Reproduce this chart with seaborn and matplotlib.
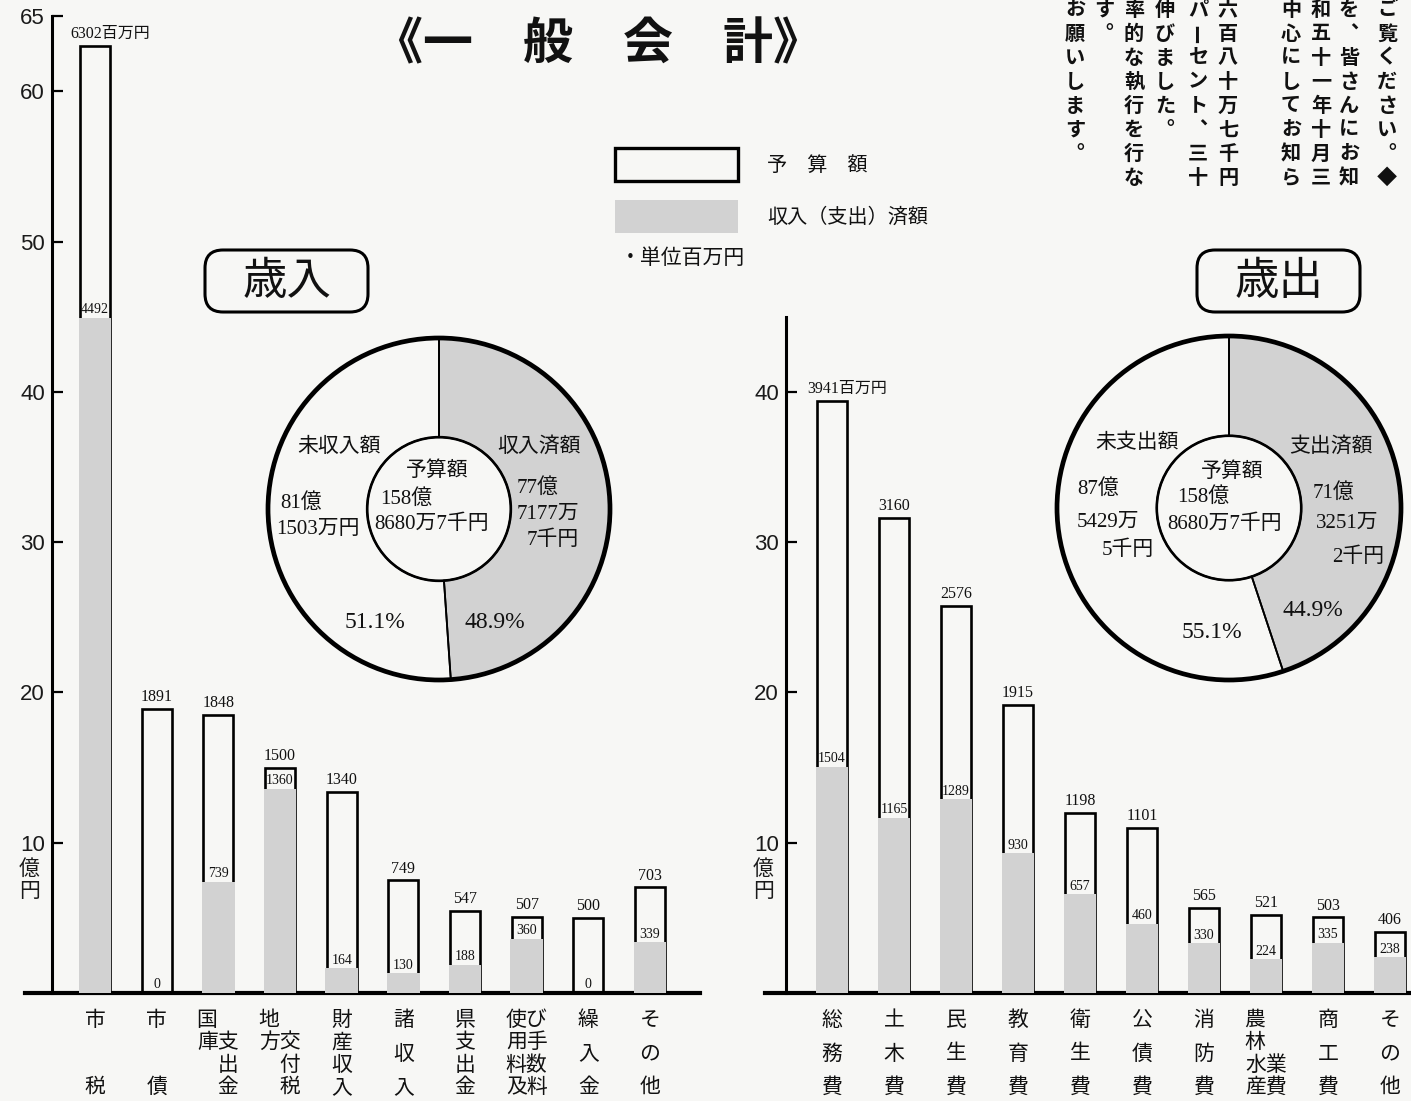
import numpy as np
import matplotlib
matplotlib.use("Agg")
import matplotlib.pyplot as plt
from matplotlib.patches import Rectangle, FancyBboxPatch, Circle
import seaborn as sns

sns.set_theme(style="white")
plt.rcParams['font.family'] = ['Noto Sans CJK JP', 'DejaVu Sans']
SERIF = ['Liberation Serif', 'Noto Sans CJK JP']
SANS = ['Liberation Sans', 'Noto Sans CJK JP']

# --- データ (百万円) ---
rev_cats = ['市税', '市債', '国庫支出金', '地方交付税', '財産収入', '諸収入',
            '県支出金', '使用料及び手数料', '繰入金', 'その他']
rev_budget = [6302, 1891, 1848, 1500, 1340, 749, 547, 507, 500, 703]
rev_actual = [4492, 0, 739, 1360, 164, 130, 188, 360, 0, 339]
rev_lines = [['市', '税'], ['市', '債'], ['国　', '庫支', '　出', '　金'],
             ['地　', '方交', '　付', '　税'], ['財', '産', '収', '入'],
             ['諸', '収', '入'], ['県', '支', '出', '金'],
             ['使び', '用手', '料数', '及料'], ['繰', '入', '金'], ['そ', 'の', '他']]

exp_cats = ['総務費', '土木費', '民生費', '教育費', '衛生費', '公債費',
            '消防費', '農林水産業費', '商工費', 'その他']
exp_budget = [3941, 3160, 2576, 1915, 1198, 1101, 565, 521, 503, 406]
exp_actual = [1504, 1165, 1289, 930, 657, 460, 330, 224, 335, 238]
exp_lines = [['総', '務', '費'], ['土', '木', '費'], ['民', '生', '費'],
             ['教', '育', '費'], ['衛', '生', '費'], ['公', '債', '費'],
             ['消', '防', '費'], ['農　', '林　', '水業', '産費'],
             ['商', '工', '費'], ['そ', 'の', '他']]

rev_pct = [48.9, 51.1]   # 収入済額, 未収入額
exp_pct = [44.9, 55.1]   # 支出済額, 未支出額

notice_cols = ['ご覧ください。◆', 'を、皆さんにお知', '和五十一年十月三', '中心にしてお知ら',
               '六百八十万七千円', 'パーセント、三十', '伸びました。', '率的な執行を行な',
               'す。', 'お願いします。']
notice_x = [1387, 1349, 1321, 1291, 1228, 1198, 1165, 1134, 1104, 1075]

W, H = 1411, 1101
BG = '#f7f7f5'
GRAY = '#d2d2d2'
Y0 = 993      # baseline (px)
PX = 15.03    # px per 億円

fig = plt.figure(figsize=(W / 100, H / 100), dpi=100, facecolor=BG)


def px2y(p):
    return (Y0 - p) / PX


def fig_rect(x0, y0, x1, y1):
    return [x0 / W, (H - y1) / H, (x1 - x0) / W, (y1 - y0) / H]


YTOP = Y0 - 65 * PX


def bar_panel(x0, x1, first, step, spine, cats, budget, actual, lines, top, ticks):
    ax = fig.add_axes(fig_rect(x0, YTOP, x1, Y0))
    ax.set_facecolor('none')
    b = np.array(budget) / 100
    a = np.array(actual) / 100
    pos = np.arange(len(cats))
    bw = 30 / step
    lw_u = 2.6 / step
    ax.bar(pos, b, width=bw, facecolor='none', edgecolor='black', linewidth=1.9, zorder=2)
    sns.barplot(x=cats, y=a, color=GRAY, width=bw + lw_u, saturation=1,
                linewidth=0, ax=ax, zorder=3)
    ax.set_xlim((x0 - first) / step, (x1 - first) / step)
    ax.set_ylim(0, 65)
    ax.set_xticks([])
    ax.set_xlabel('')
    ax.set_ylabel('')

    for i in pos:
        if i == 0:
            ax.text(i - bw / 2 - 0.15, b[i] + 0.25, f'{budget[i]}百万円', ha='left', va='bottom',
                    fontsize=11.5, family=SERIF, color='#111')
        else:
            ax.text(i, b[i] + 0.25, f'{budget[i]}', ha='center', va='bottom',
                    fontsize=11.5, family=SERIF, color='#111')
        ax.text(i, a[i] + 0.1, f'{actual[i]}', ha='center', va='bottom',
                fontsize=10, family=SERIF, color='#111', zorder=5)
        ln = lines[i]
        ys = np.linspace(1020, 1087, len(ln))
        for s, yp in zip(ln, ys):
            ax.text(i, px2y(yp), s, ha='center', va='center', fontsize=15,
                    color='#111', clip_on=False)

    for s in ['top', 'right']:
        ax.spines[s].set_visible(False)
    ax.spines['left'].set_position(('data', (spine - first) / step))
    ax.spines['left'].set_bounds(0, top)
    ax.spines['left'].set_linewidth(2.2)
    ax.spines['bottom'].set_linewidth(3)
    for s in ['left', 'bottom']:
        ax.spines[s].set_color('black')
    ax.set_yticks(ticks)
    ax.set_yticklabels([str(t) for t in ticks], family=SANS)
    ax.tick_params(axis='y', direction='in', length=8, width=1.6, labelsize=16,
                   pad=5, colors='black', labelcolor='#1a1a1a', left=True)
    sp = (spine - first) / step
    ax.text(sp - 12 / step, px2y(880), '億\n円', ha='right', va='center', fontsize=15,
            linespacing=1.0, color='#1a1a1a', clip_on=False)
    return ax


bar_panel(25, 700, 95, 61.67, 52, rev_cats, rev_budget, rev_actual, rev_lines,
          65, [10, 20, 30, 40, 50, 60, 65])
bar_panel(765, 1411, 832, 62.0, 786, exp_cats, exp_budget, exp_actual, exp_lines,
          45, [10, 20, 30, 40])


def donut(cx, cy, r, pct):
    m = 1.04
    pax = fig.add_axes(fig_rect(cx - r * m, cy - r * m, cx + r * m, cy + r * m))
    pax.pie(pct, colors=[GRAY, 'none'], startangle=90, counterclock=False, radius=1,
            wedgeprops=dict(width=0.58, edgecolor='black', linewidth=1.3))
    pax.add_patch(Circle((0, 0), 1, fill=False, lw=3.4, ec='black'))
    pax.add_patch(Circle((0, 0), 0.42, fill=False, lw=1.9, ec='black'))
    pax.set_xlim(-m, m)
    pax.set_ylim(-m, m)
    pax.set_aspect('equal')
    pax.axis('off')


donut(439, 509, 171, rev_pct)
donut(1229, 508, 172, exp_pct)

# --- 注記・見出し ---
ov = fig.add_axes([0, 0, 1, 1])
ov.set_xlim(0, W)
ov.set_ylim(H, 0)
ov.axis('off')

ov.text(598, 45, '《一　般　会　計》', ha='center', va='center', fontsize=36,
        fontweight='bold', color='#111')

for x0 in (205, 1197):
    ov.add_patch(FancyBboxPatch((x0, 250), 163, 62, boxstyle='round,pad=0,rounding_size=18',
                                fc='none', ec='black', lw=2.2))
ov.text(287, 281, '歳入', ha='center', va='center', fontsize=32, color='#111')
ov.text(1279, 281, '歳出', ha='center', va='center', fontsize=32, color='#111')

ov.add_patch(Rectangle((615, 148), 123, 33, fc=BG, ec='black', lw=2.4))
ov.add_patch(Rectangle((615, 200), 123, 33, fc=GRAY, ec='none'))
ov.text(767, 165, '予　算　額', ha='left', va='center', fontsize=14.5, color='#111')
ov.text(767, 217, '収入（支出）済額', ha='left', va='center', fontsize=14.5, color='#111')
ov.text(620, 258, '・単位百万円', ha='left', va='center', fontsize=15, color='#111')

# 縦書きの本文
for col, x in zip(notice_cols, notice_x):
    for k, ch in enumerate(col):
        y = 9 + k * 24
        if ch in '、。':
            ov.text(x + 11, y - 11, ch, ha='center', va='center', fontsize=14.5,
                    fontweight='bold', color='#111')
        elif ch == 'ー':
            ov.text(x, y, ch, ha='center', va='center', fontsize=14.5, rotation=90,
                    fontweight='bold', color='#111')
        else:
            ov.text(x, y, ch, ha='center', va='center', fontsize=14.5,
                    fontweight='bold', color='#111')

# 円グラフ内の文字
def t(x, y, s, ha='left', fs=15, fam=SERIF):
    ov.text(x, y, s, ha=ha, va='center', fontsize=fs, family=fam, color='#111')


t(339, 447, '未収入額', 'center')
t(539, 447, '収入済額', 'center')
t(280, 503, '81億')
t(276, 530, '1503万円')
t(437, 471, '予算額', 'center')
t(380, 499, '158億')
t(374, 524, '8680万7千円')
t(517, 488, '77億')
t(517, 514, '7177万')
t(527, 540, '7千円')
t(375, 623, f'{rev_pct[1]}%', 'center', 17)
t(495, 623, f'{rev_pct[0]}%', 'center', 17)

t(1137, 443, '未支出額', 'center')
t(1331, 447, '支出済額', 'center')
t(1077, 489, '87億')
t(1077, 522, '5429万')
t(1102, 550, '5千円')
t(1232, 472, '予算額', 'center')
t(1177, 497, '158億')
t(1167, 524, '8680万7千円')
t(1313, 493, '71億')
t(1316, 523, '3251万')
t(1332, 557, '2千円')
t(1212, 632, f'{exp_pct[1]}%', 'center', 17)
t(1313, 611, f'{exp_pct[0]}%', 'center', 17)

fig.savefig('out.png', dpi=100, facecolor=BG)
